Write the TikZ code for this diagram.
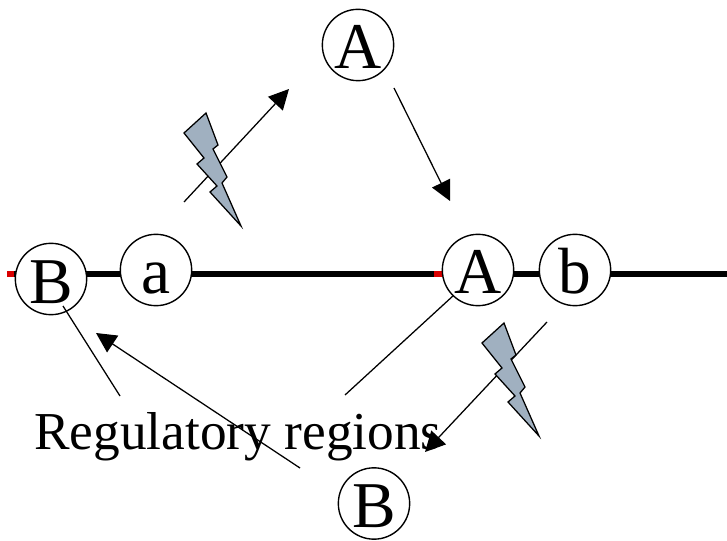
\documentclass[tikz,border=0pt]{standalone}
\usepackage{fontspec}
\setmainfont{Liberation Serif}
\usetikzlibrary{arrows.meta}
\definecolor{boltgray}{HTML}{A0B0C0}
\tikzset{
    region/.style={circle,draw=black,fill=white,line width=1.05pt,inner sep=0pt,minimum size=53.5pt,text height=36pt,text depth=0pt,text width=35pt,align=center,font=\fontsize{49}{49}\selectfont},
    strand/.style={line width=3.8pt,black},
    promoter/.style={line width=3.8pt,red!85!black},
    link/.style={line width=0.95pt},
    pointer/.style={link,-{Triangle[length=15pt,width=15pt]}},
    bolt/.style={draw=black,line width=0.95pt,fill=boltgray,line join=miter},
}
\begin{document}
\begin{tikzpicture}[x=0.75pt,y=-0.75pt]
    \useasboundingbox (0,0) rectangle (727,541);
    % chromosome
    \coordinate (strandL) at (14,274);
    \coordinate (strandR) at (727,274);
    \coordinate (redL) at (7,274);
    \coordinate (redM) at (434,274);
    \coordinate (redN) at (444,274);
    \draw[strand] (strandL) -- (strandR);
    \draw[promoter] (redL) -- (strandL);
    \draw[promoter] (redM) -- (redN);
    % regions on it
    \node[region] (Bdna) at (51,279) {B};
    \node[region] (adna) at (156,270) {a};
    \node[region] (Adna) at (478,270) {A};
    \node[region] (bdna) at (575,270) {b};
    % free proteins
    \node[region] (Atop) at (358,45) {A};
    \node[region] (Bbot) at (374,503.5) {B};
    \node[font=\fontsize{40}{40}\selectfont,inner sep=0pt,anchor=base west] (label) at (34,449) {Regulatory regions};
    % ends of the connectors
    \coordinate (aout) at (184,202);
    \coordinate (Ain) at (289,89);
    \coordinate (Aout) at (394,88);
    \coordinate (Aend) at (450,201);
    \coordinate (bout) at (547,322);
    \coordinate (Bin) at (425,452);
    \coordinate (Bout) at (300,468);
    \coordinate (Bend) at (96,333);
    \coordinate (labelA) at (345,395);
    \coordinate (labelB) at (120,396);
    \coordinate (Bfoot) at (63,306);
    \draw[pointer] (aout) -- (Ain);
    \draw[pointer] (Aout) -- (Aend);
    \draw[pointer] (bout) -- (Bin);
    \draw[pointer] (Bout) -- (Bend);
    \draw[link] (Adna.226) -- (labelA);
    \draw[link] (Bfoot) -- (labelB);
    % lightning
    \foreach \dx/\dy in {0/0,298/210}
    \draw[bolt,shift={(\dx*0.75pt,-\dy*0.75pt)}] (206,113) -- (218,145) -- (213,149) -- (227,177) -- (222,183) -- (241,226) -- (210,192) -- (217,186) -- (197,164) -- (204,158) -- (184,133) -- cycle;
\end{tikzpicture}
\end{document}
